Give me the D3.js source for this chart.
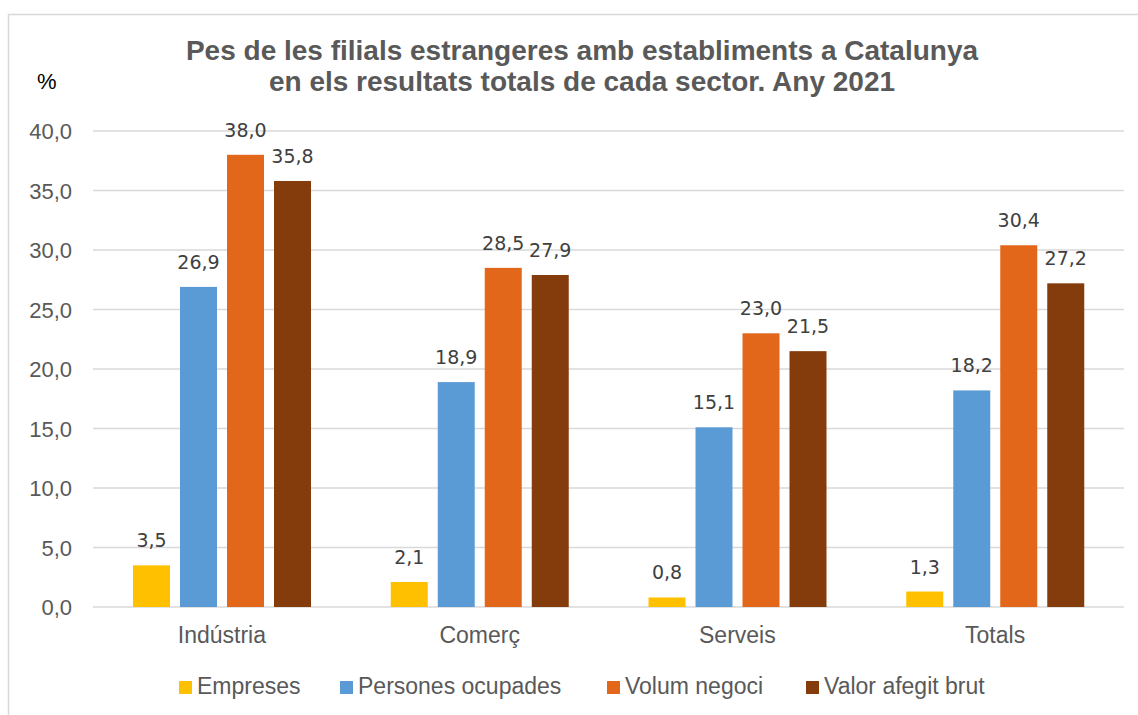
<!DOCTYPE html>
<html>
<head>
<meta charset="utf-8">
<script src="https://cdn.jsdelivr.net/npm/d3@7"></script>
<style>
  body { margin: 0; background: #fff; }
  svg { display: block; }
</style>
</head>
<body>
<div class="chart-wrapper"></div>
<script>
// sectors and series
const sectors = ["Indústria", "Comerç", "Serveis", "Totals"];
const seriesNames = ["Empreses", "Persones ocupades", "Volum negoci", "Valor afegit brut"];
const empreses = [3.5, 2.1, 0.8, 1.3];
const persones = [26.9, 18.9, 15.1, 18.2];
const volum = [38.0, 28.5, 23.0, 30.4];
const valor = [35.8, 27.9, 21.5, 27.2];
const yTicks = [0, 5, 10, 15, 20, 25, 30, 35, 40];
const colors = ["#FFC000", "#5B9BD5", "#E2671A", "#843C0C"];

const width = 1138, height = 715;
const plotLeft = 93, plotRight = 1124, plotTop = 131, plotBottom = 607;

const seriesValues = [empreses, persones, volum, valor];
const fmt = v => d3.format(".1f")(v).replace(".", ",");

let svg = d3.select(".chart-wrapper")
  .append("svg")
  .attr("width", width)
  .attr("height", height);

// outer frame of the chart area
svg.append("rect")
  .attr("x", 8.5).attr("y", 14.5)
  .attr("width", 1300).attr("height", 900)
  .attr("fill", "none")
  .attr("stroke", "#D9D9D9")
  .attr("stroke-width", 1.5);

let y = d3.scaleLinear().domain([0, 40]).range([plotBottom, plotTop]);
let x0 = d3.scaleBand().domain(sectors).range([plotLeft, plotRight]);
let x1 = d3.scaleBand().domain(seriesNames).range([40, 218]).paddingInner(0.213);

// gridlines
svg.append("g")
  .selectAll("line")
  .data(yTicks)
  .enter()
  .append("line")
  .attr("x1", plotLeft).attr("x2", plotRight)
  .attr("y1", d => y(d)).attr("y2", d => y(d))
  .attr("stroke", "#D9D9D9")
  .attr("stroke-width", 1.5);

// y axis labels
let yAxis = svg.append("g")
  .attr("transform", `translate(${plotLeft - 21},0)`)
  .call(d3.axisLeft(y).tickValues(yTicks).tickFormat(fmt).tickSize(0).tickPadding(0));
yAxis.select(".domain").remove();
yAxis.selectAll("text")
  .attr("font-family", "Arial, 'Liberation Sans', sans-serif")
  .attr("font-size", 22)
  .attr("fill", "#595959")
  .attr("dy", "0.36em");

// x axis labels
let xAxis = svg.append("g")
  .attr("transform", `translate(0,${plotBottom + 36})`)
  .call(d3.axisBottom(x0).tickSize(0).tickPadding(0));
xAxis.select(".domain").remove();
xAxis.selectAll("text")
  .attr("font-family", "Arial, 'Liberation Sans', sans-serif")
  .attr("font-size", 23)
  .attr("fill", "#595959")
  .attr("dy", 0);

// bars
let rows = [];
sectors.forEach((s, i) => {
  seriesNames.forEach((n, j) => {
    rows.push({ sector: s, series: n, value: seriesValues[j][i], color: colors[j] });
  });
});

let groups = svg.append("g");
groups.selectAll("rect")
  .data(rows)
  .enter()
  .append("rect")
  .attr("x", d => x0(d.sector) + x1(d.series))
  .attr("y", d => y(d.value))
  .attr("width", x1.bandwidth())
  .attr("height", d => y(0) - y(d.value))
  .attr("fill", d => d.color);

groups.selectAll("text")
  .data(rows)
  .enter()
  .append("text")
  .attr("x", d => x0(d.sector) + x1(d.series) + x1.bandwidth() / 2)
  .attr("y", d => y(d.value) - 18)
  .attr("text-anchor", "middle")
  .attr("font-family", "'DejaVu Sans', sans-serif")
  .attr("font-size", 19)
  .attr("fill", "#404040")
  .text(d => fmt(d.value));

// title
let title = svg.append("text")
  .attr("text-anchor", "middle")
  .attr("font-family", "Arial, 'Liberation Sans', sans-serif")
  .attr("font-weight", "bold")
  .attr("font-size", 28)
  .attr("fill", "#595959");
title.append("tspan").attr("x", 582).attr("y", 60)
  .text("Pes de les filials estrangeres amb establiments a Catalunya");
title.append("tspan").attr("x", 582).attr("y", 91)
  .text("en els resultats totals de cada sector. Any 2021");

svg.append("text")
  .attr("x", 37).attr("y", 89)
  .attr("font-family", "Arial, 'Liberation Sans', sans-serif")
  .attr("font-size", 22)
  .attr("fill", "#000")
  .text("%");

// legend
const legendX = [179, 340, 607, 806];
let legend = svg.append("g");
seriesNames.forEach((n, j) => {
  let g = legend.append("g").attr("transform", `translate(${legendX[j]},0)`);
  g.append("rect")
    .attr("x", 0).attr("y", 681)
    .attr("width", 13).attr("height", 13)
    .attr("fill", colors[j]);
  g.append("text")
    .attr("x", 18).attr("y", 694)
    .attr("font-family", "Arial, 'Liberation Sans', sans-serif")
    .attr("font-size", 23)
    .attr("fill", "#595959")
    .text(n);
});
</script>
</body>
</html>
